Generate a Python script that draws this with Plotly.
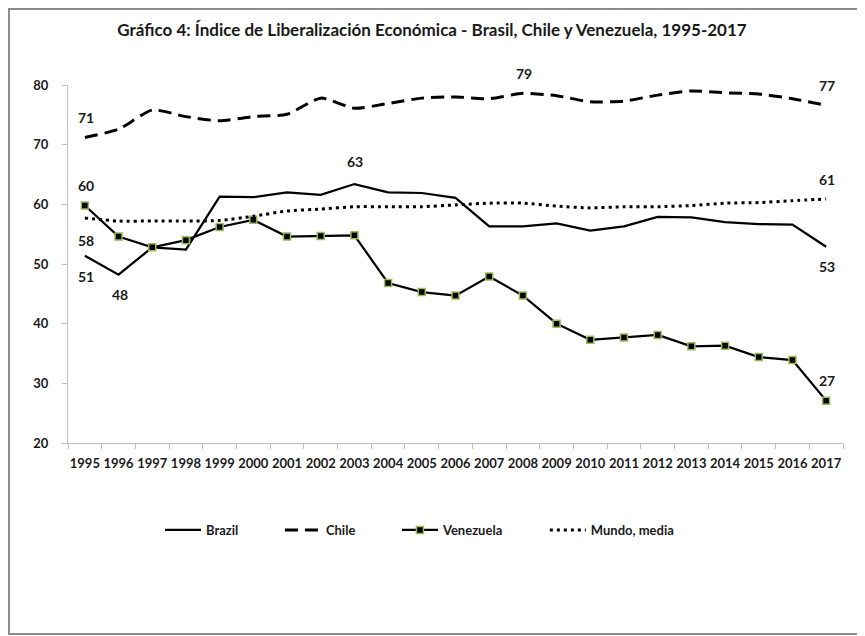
import plotly.graph_objects as go

years = [str(y) for y in range(1995, 2018)]
brazil = [51.4, 48.2, 52.8, 52.4, 61.3, 61.2, 62.0, 61.6, 63.4, 62.0, 61.9, 61.1,
          56.3, 56.3, 56.8, 55.6, 56.3, 57.9, 57.8, 57.0, 56.7, 56.6, 52.9]
chile = [71.2, 72.6, 75.8, 74.7, 74.0, 74.7, 75.1, 77.8, 76.1, 76.9, 77.8, 78.0,
         77.7, 78.6, 78.2, 77.2, 77.3, 78.3, 79.0, 78.7, 78.5, 77.7, 76.6]
venezuela = [59.8, 54.6, 52.8, 54.0, 56.2, 57.4, 54.6, 54.7, 54.8, 46.8, 45.3, 44.7,
             47.9, 44.7, 40.0, 37.3, 37.7, 38.1, 36.2, 36.3, 34.4, 33.9, 27.1]
mundo = [57.7, 57.2, 57.2, 57.2, 57.3, 58.0, 58.9, 59.2, 59.6, 59.6, 59.6, 59.9,
         60.2, 60.2, 59.7, 59.4, 59.6, 59.6, 59.8, 60.2, 60.3, 60.6, 60.9]

FONT = "Lato"
DARK = "#1a1a1a"
PAD = "\u00a0" * 11  # extra spacing between legend entries

# page has an 8px body margin, so the figure is drawn 8px smaller
W, H = 857, 628
L, T, R, B = 60, 77, 22, 193
PW, PH = W - L - R, H - T - B

fig = go.Figure()
fig.add_trace(go.Scatter(x=years, y=brazil, name="<b>Brazil</b>" + PAD, mode="lines",
                         line=dict(color="black", width=2.25)))
fig.add_trace(go.Scatter(x=years, y=chile, name="<b>Chile</b>" + PAD, mode="lines",
                         line=dict(color="black", width=3, dash="13px,7px", shape="spline", smoothing=0.6)))
fig.add_trace(go.Scatter(x=years, y=venezuela, name="<b>Venezuela</b>" + PAD, mode="lines+markers",
                         line=dict(color="black", width=2.25),
                         marker=dict(symbol="square", size=7, color="black",
                                     line=dict(color="#9BBB59", width=1.5))))
fig.add_trace(go.Scatter(x=years, y=mundo, name="<b>Mundo, media</b>", mode="lines",
                         line=dict(color="black", width=3, dash="3px,4px", shape="spline", smoothing=0.6)))

# data labels: (series, index, yshift)
labels = [
    (chile, 0, 20), (chile, 13, 20), (chile, 22, 20),
    (brazil, 0, -21), (brazil, 1, -20), (brazil, 8, 23), (brazil, 22, -20),
    (venezuela, 0, 20), (venezuela, 22, 20),
    (mundo, 0, -22), (mundo, 22, 19),
]
for series, i, ys in labels:
    fig.add_annotation(x=i, y=series[i], text=f"<b>{series[i]:.0f}</b>", showarrow=False,
                       yshift=ys, xshift=1, font=dict(family=FONT, size=14, color=DARK))

fig.update_layout(
    width=W, height=H,
    margin=dict(l=L, r=R, t=T, b=B, autoexpand=False),
    paper_bgcolor="white", plot_bgcolor="white",
    title=dict(text="<b>Gráfico 4: Índice de Liberalización Económica - Brasil, Chile y Venezuela, 1995-2017</b>",
               x=(432 - 8) / W, xanchor="center", y=1 - 22 / H, yanchor="middle",
               font=dict(family=FONT, size=17, color=DARK)),
    font=dict(family=FONT, color=DARK),
    showlegend=True,
    legend=dict(orientation="h", x=(160 - 8 - L) / PW, xanchor="left", y=-(530 - 443) / PH, yanchor="middle",
                font=dict(family=FONT, size=13, color=DARK), traceorder="normal",
                itemwidth=36),
    shapes=[dict(type="rect", xref="paper", yref="paper",
                 x0=-(L - 1) / PW, x1=(854 - L) / PW, y0=-(B - 2) / PH, y1=(T - 1) / PH + 1,
                 line=dict(color="#8c8c8c", width=2), fillcolor="rgba(0,0,0,0)", layer="below")],
)
fig.update_xaxes(type="category", range=[-0.5, 22.5], showline=True, linecolor="#bfbfbf", linewidth=1,
                 ticks="outside", tickson="boundaries", ticklen=5, tickcolor="#bfbfbf",
                 tickfont=dict(family=FONT, size=13, color=DARK), tickprefix="<b>", ticksuffix="</b>",
                 showgrid=False, zeroline=False, tickangle=0, ticklabelstandoff=8, automargin=False)
fig.update_yaxes(range=[20, 80], dtick=10, showline=True, linecolor="#bfbfbf", linewidth=1,
                 ticks="outside", ticklen=5, tickcolor="#bfbfbf",
                 tickfont=dict(family=FONT, size=13, color=DARK), tickprefix="<b>", ticksuffix="</b>",
                 showgrid=False, zeroline=False, ticklabelstandoff=11, automargin=False)

fig.write_html("out.html")
